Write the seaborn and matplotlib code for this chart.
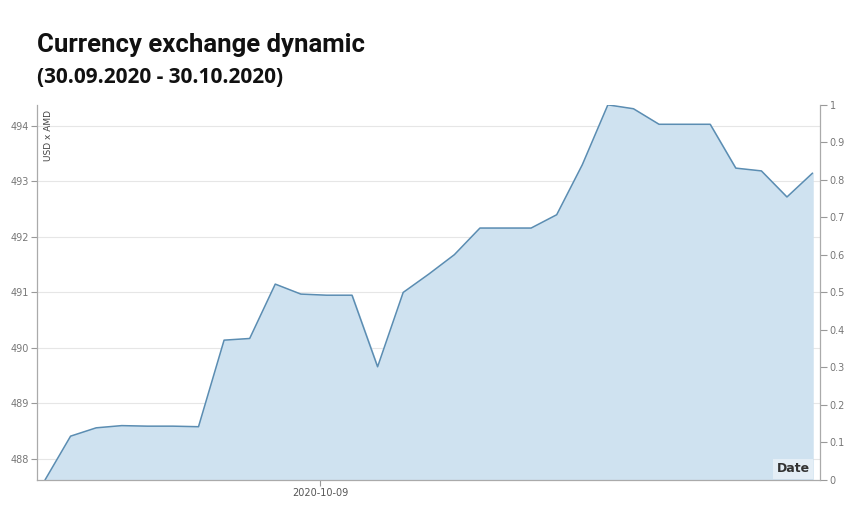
import pandas as pd
import matplotlib.pyplot as plt
import seaborn as sns
import numpy as np

# Курс USD/AMD, один пункт на день (30.09 - 30.10)
dates = pd.date_range('2020-09-30', '2020-10-30', freq='D')
rates = [487.62, 488.41, 488.56, 488.60, 488.59, 488.59, 488.58, 490.14,
         490.17, 491.15, 490.97, 490.95, 490.95, 489.66, 491.00, 491.33,
         491.68, 492.16, 492.16, 492.16, 492.40, 493.30, 494.38, 494.31,
         494.03, 494.03, 494.03, 493.24, 493.19, 492.72, 493.15]
left_ticks = [488, 489, 490, 491, 492, 493, 494]
right_ticks = [round(v, 1) for v in np.arange(0, 1.01, 0.1)]
date_tick_label = '2020-10-09'
date_tick_pos = 10.75

df = pd.DataFrame({'idx': np.arange(len(dates)), 'date': dates, 'rate': rates})

sns.set_theme(style="white")
plt.rcParams['font.family'] = ['DejaVu Sans']

fig = plt.figure(figsize=(8.5, 5.09), dpi=100)
ax = fig.add_axes([0.0435, 0.057, 0.921, 0.737])

ymin, ymax = min(rates), max(rates)
ax.fill_between(df['idx'], df['rate'], ymin, color='#cfe2f0', zorder=1)
sns.lineplot(data=df, x='idx', y='rate', ax=ax, color='#5b8db2', linewidth=1.1, zorder=2)

ax.set_xlim(-0.313, 30.285)
ax.set_ylim(ymin, ymax)
ax.set_yticks(left_ticks)
ax.set_yticklabels([str(t) for t in left_ticks], fontsize=7, color='#777777')
ax.set_xticks([date_tick_pos])
ax.set_xticklabels([date_tick_label], fontsize=7, color='#555555')
ax.set_xlabel('')
ax.set_ylabel('')
ax.grid(axis='y', color='#e6e6e6', linewidth=0.8, zorder=0)
ax.set_axisbelow(True)
ax.tick_params(axis='both', length=4, width=0.8, color='#999999', direction='out', pad=2,
               left=True, bottom=True)
for side in ['top', 'right']:
    ax.spines[side].set_visible(False)
for side in ['left', 'bottom']:
    ax.spines[side].set_color('#aaaaaa')
    ax.spines[side].set_linewidth(0.9)

# Правая ось 0..1
ax2 = ax.twinx()
ax2.set_ylim(0, 1)
ax2.set_yticks(right_ticks)
ax2.set_yticklabels([f'{t:g}' for t in right_ticks], fontsize=7, color='#777777')
ax2.tick_params(axis='y', length=5, width=0.8, color='#999999', direction='out', pad=2, right=True)
ax2.grid(False)
for side in ['top', 'left', 'bottom']:
    ax2.spines[side].set_visible(False)
ax2.spines['right'].set_color('#aaaaaa')
ax2.spines['right'].set_linewidth(0.9)

ax.text(0.009, 0.985, 'USD x AMD', transform=ax.transAxes, rotation=90,
        ha='left', va='top', fontsize=6.5, color='#444444')
ax.text(0.987, 0.012, 'Date', transform=ax.transAxes, ha='right', va='bottom',
        fontsize=9, fontweight='semibold', color='#333333',
        bbox=dict(boxstyle='square,pad=0.25', facecolor='#e4eef6', edgecolor='none'))

fig.text(0.044, 0.898, 'Currency exchange dynamic', fontsize=18.5, fontweight='bold',
         family=['Roboto', 'DejaVu Sans'], color='#111111')
fig.text(0.044, 0.836, '(30.09.2020 - 30.10.2020)', fontsize=15, fontweight='bold',
         family=['Open Sans', 'DejaVu Sans'], color='#111111')

plt.savefig('out.png', dpi=100)
plt.close()
